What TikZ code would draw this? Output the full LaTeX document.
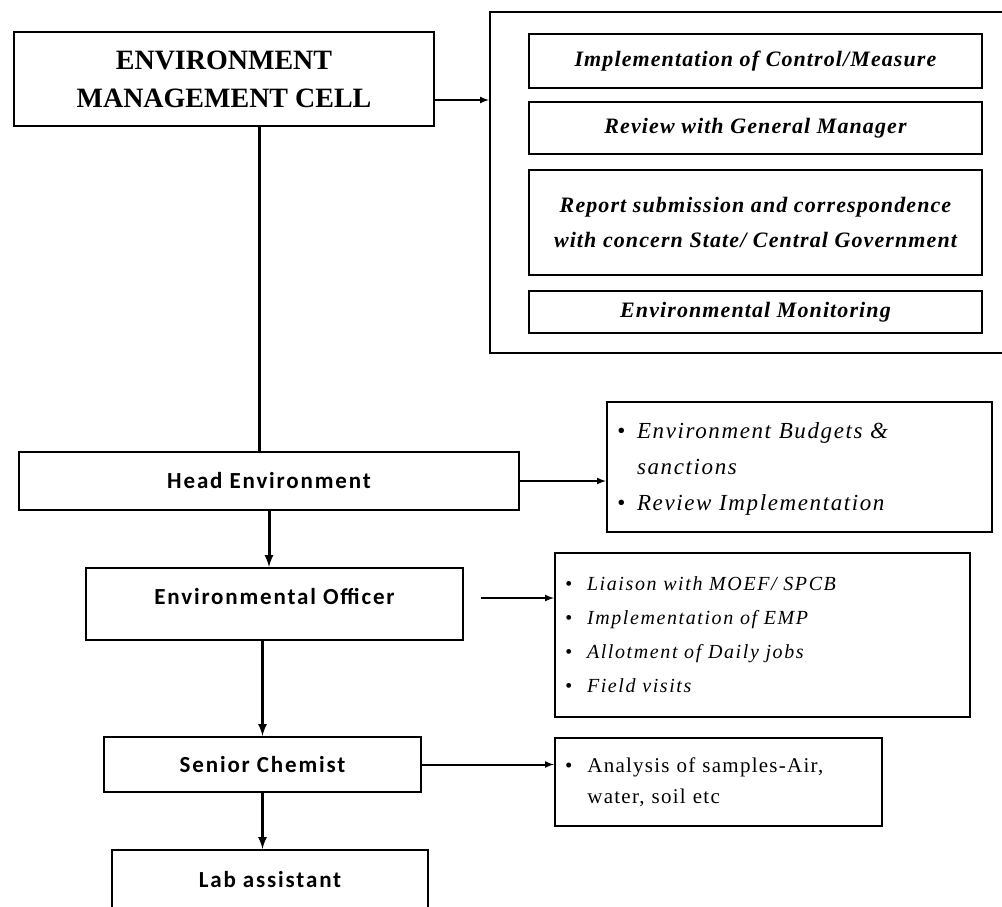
\documentclass[tikz,border=0pt]{standalone}
\usepackage{fontspec}
\setmainfont{Liberation Serif}
\newfontfamily\calibri[LetterSpace=8]{Carlito}
\begin{document}
\begin{tikzpicture}[x=1pt,y=-1pt]
\tikzstyle{boite} = [draw, line width=2.2pt, inner sep=0pt] %cadres
\tikzstyle{poste} = [boite, font=\calibri\bfseries\fontsize{23}{26}\selectfont]
\tikzstyle{tache} = [boite, minimum width=453pt, font=\bfseries\itshape\fontsize{22}{35}\selectfont\addfontfeatures{LetterSpace=5}]
\tikzstyle{liste} = [boite, align=left, inner xsep=10pt]
\tikzstyle{fleche} = [line width=2pt, -latex]
\tikzstyle{lien} = [line width=3pt]
\useasboundingbox (0,0) rectangle (1002,907);

%cellule principale et ses missions
\node[boite, minimum width=420pt, minimum height=94pt, align=center, font=\bfseries\fontsize{28}{38}\selectfont] (emc) at (224,79) {ENVIRONMENT\\MANAGEMENT CELL};
\node[boite, minimum width=520pt, minimum height=341pt] (missions) at (750,182.5) {};
\node[tache, minimum height=54pt] (t1) at (755.5,61) {Implementation of Control/Measure};
\node[tache, minimum height=52pt] (t2) at (755.5,128) {Review with General Manager};
\node[tache, minimum height=105pt] (t3) at (755.5,222.5) {\raisebox{8pt}{\begin{tabular}{@{}c@{}}Report submission and correspondence\\with concern State/ Central Government\end{tabular}}};
\node[tache, minimum height=42pt] (t4) at (755.5,312) {Environmental Monitoring};

%postes
\node[poste, minimum width=500pt, minimum height=58pt] (head) at (269,481) {Head Environment};
\node[poste, minimum width=377pt, minimum height=72pt, text height=16pt, text depth=15pt] (officer) at (274.5,604) {Environmental Officer};
\node[poste, minimum width=317pt, minimum height=55pt] (chemist) at (262.5,764.5) {Senior Chemist};
\node[poste, minimum width=316pt, minimum height=74pt, text height=16pt, text depth=16pt] (lab) at (270,887) {Lab assistant};

%responsabilites
\node[liste, text width=365pt, minimum height=130pt, font=\itshape\fontsize{23}{24}\selectfont\addfontfeatures{LetterSpace=7}] (budget) at (799.5,467) {\renewcommand{\arraystretch}{1.5}\begin{tabular}{@{}l@{\hspace{12pt}}l@{}}\textbullet & Environment Budgets \&\\ & sanctions\\ \textbullet & Review Implementation\end{tabular}};
\node[liste, text width=395pt, minimum height=164pt, font=\itshape\fontsize{20}{22}\selectfont\addfontfeatures{LetterSpace=8}] (liaison) at (762.5,635) {\renewcommand{\arraystretch}{1.55}\begin{tabular}{@{}l@{\hspace{15pt}}l@{}}\textbullet & Liaison with MOEF/ SPCB\\ \textbullet & Implementation of EMP\\ \textbullet & Allotment of Daily jobs\\ \textbullet & Field visits\end{tabular}};
\node[liste, text width=307pt, minimum height=88pt, font=\fontsize{21}{23}\selectfont\addfontfeatures{LetterSpace=6}] (analyse) at (718.5,782) {\renewcommand{\arraystretch}{1.35}\begin{tabular}{@{}l@{\hspace{15pt}}l@{}}\textbullet & Analysis of samples-Air,\\ & water, soil etc\end{tabular}};

%liaisons
\draw[lien] ([xshift=35pt]emc.south) coordinate (p) -- (p |- head.north);
\draw[lien, -latex] (head.south) -- (head.south |- officer.north);
\draw[lien, -latex] (chemist.north |- officer.south) -- (chemist.north);
\draw[lien, -latex] (chemist.south) -- (chemist.south |- lab.north);

\draw[fleche] ([yshift=-21pt]emc.east) -- ([yshift=-21pt]emc.east -| missions.west);
\draw[fleche] (head.east) -- (head.east -| budget.west);
\draw[fleche] ([xshift=17pt,yshift=6pt]officer.east) -- ([yshift=6pt]officer.east -| liaison.west);
\draw[fleche] (chemist.east) -- (chemist.east -| analyse.west);
\end{tikzpicture}
\end{document}
